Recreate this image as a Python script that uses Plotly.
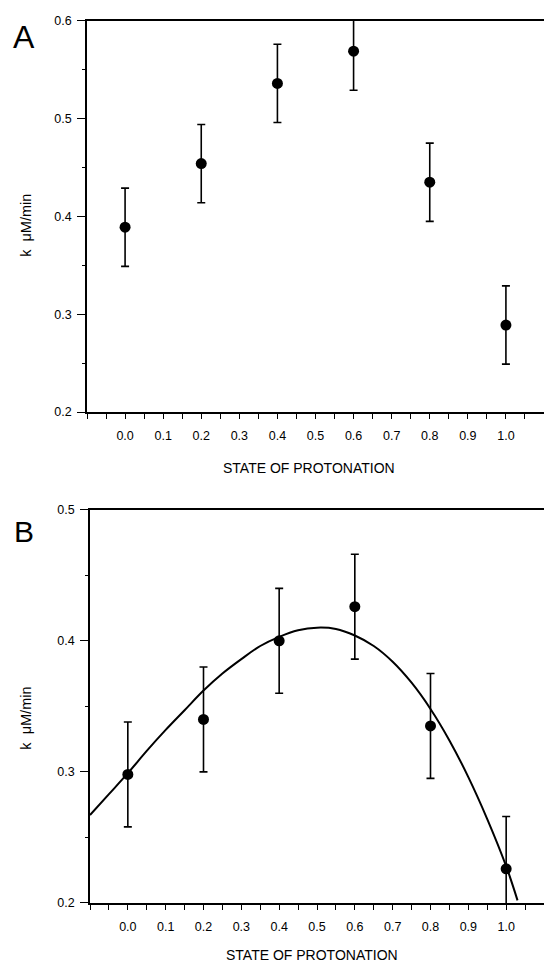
import plotly.graph_objects as go

# ---- data ----
state = [0.0, 0.2, 0.4, 0.6, 0.8, 1.0]
k_a = [0.389, 0.454, 0.536, 0.569, 0.435, 0.289]
err_a = [0.04, 0.04, 0.04, 0.04, 0.04, 0.04]
k_b = [0.298, 0.340, 0.400, 0.426, 0.335, 0.226]
err_b = [0.04, 0.04, 0.04, 0.04, 0.04, 0.04]
fit_x = [-0.1, -0.05, 0.0, 0.05, 0.1, 0.15, 0.2, 0.25, 0.3, 0.35, 0.4, 0.45,
         0.5, 0.55, 0.6, 0.65, 0.7, 0.75, 0.8, 0.85, 0.9, 0.95, 1.0, 1.03]
fit_b = [0.267, 0.283, 0.299, 0.316, 0.332, 0.347, 0.362, 0.375, 0.386, 0.396,
         0.403, 0.408, 0.410, 0.409, 0.404, 0.396, 0.384, 0.368, 0.348, 0.324,
         0.296, 0.264, 0.228, 0.202]
x_tick_vals = [-0.1, 0.0, 0.1, 0.2, 0.3, 0.4, 0.5, 0.6, 0.7, 0.8, 0.9, 1.0, 1.1]
x_tick_text = ["", "0.0", "0.1", "0.2", "0.3", "0.4", "0.5", "0.6", "0.7", "0.8", "0.9", "1.0", ""]
ya_ticks = [0.2, 0.3, 0.4, 0.5, 0.6]
yb_ticks = [0.2, 0.3, 0.4, 0.5]
x_title = "STATE OF PROTONATION"
y_title = "k  \u03bcM/min"

W, H = 544, 975
FONT = "Liberation Sans, Arial, Helvetica, sans-serif"

def py(p):  # pixel y -> paper
    return 1 - p / H

fig = go.Figure()

marker = dict(color="black", size=11, symbol="circle")
fig.add_trace(go.Scatter(x=state, y=k_a, mode="markers", marker=marker,
                         error_y=dict(type="data", array=err_a, color="black",
                                      thickness=1.6, width=4),
                         xaxis="x", yaxis="y", showlegend=False))
fig.add_trace(go.Scatter(x=fit_x, y=fit_b, mode="lines",
                         line=dict(color="black", width=2, shape="spline", smoothing=1.0),
                         xaxis="x2", yaxis="y2", showlegend=False))
fig.add_trace(go.Scatter(x=state, y=k_b, mode="markers", marker=marker,
                         error_y=dict(type="data", array=err_b, color="black",
                                      thickness=1.6, width=4),
                         xaxis="x2", yaxis="y2", showlegend=False))

xcommon = dict(range=[-0.1, 1.1], showline=True, linecolor="black", linewidth=1.6,
               mirror=True, ticks="outside", ticklen=5, tickwidth=1.4, tickcolor="black",
               tickvals=x_tick_vals, ticktext=x_tick_text,
               minor=dict(dtick=0.05, tick0=0.0, ticks="outside", ticklen=5,
                          tickwidth=1.4, tickcolor="black"),
               showgrid=False, zeroline=False, ticklabelstandoff=6,
               tickfont=dict(family=FONT, size=12.5, color="black"))
ycommon = dict(showline=True, linecolor="black", linewidth=1.6, ticks="outside",
               ticklen=8, tickwidth=1.4, tickcolor="black",
               minor=dict(dtick=0.05, tick0=0.0, ticks="outside", ticklen=3,
                          tickwidth=1.2, tickcolor="black"),
               showgrid=False, zeroline=False, tickformat=".1f", ticklabelstandoff=3,
               tickfont=dict(family=FONT, size=12.5, color="black"))

fig.update_layout(
    width=W, height=H, margin=dict(l=0, r=0, t=0, b=0),
    paper_bgcolor="white", plot_bgcolor="white",
    xaxis=dict(xcommon, domain=[87 / W, 1], anchor="y"),
    yaxis=dict(ycommon, domain=[py(411), py(14)], range=[0.2, 0.6],
               tickvals=ya_ticks, anchor="x"),
    xaxis2=dict(xcommon, domain=[90 / W, 1], anchor="y2"),
    yaxis2=dict(ycommon, domain=[py(909), py(510)], range=[0.2, 0.5],
                tickvals=yb_ticks, anchor="x2"),
    font=dict(family=FONT, color="black"),
)

def note(text, xp, yp, size, angle=0):
    return dict(text=text, x=xp / W, y=py(yp), xref="paper", yref="paper",
                xanchor="center", yanchor="middle", showarrow=False,
                textangle=angle, font=dict(family=FONT, size=size, color="black"))

ann = [
    note("A", 24, 30, 32),
    note("B", 24, 532, 30),
    note(x_title, 309, 468, 14),
    note(x_title, 312, 962, 14),
    note(y_title, 26, 222, 14.5, -90),
    note(y_title, 26, 722, 14.5, -90),
]
fig.update_layout(annotations=ann)

fig.write_html("out.html")
